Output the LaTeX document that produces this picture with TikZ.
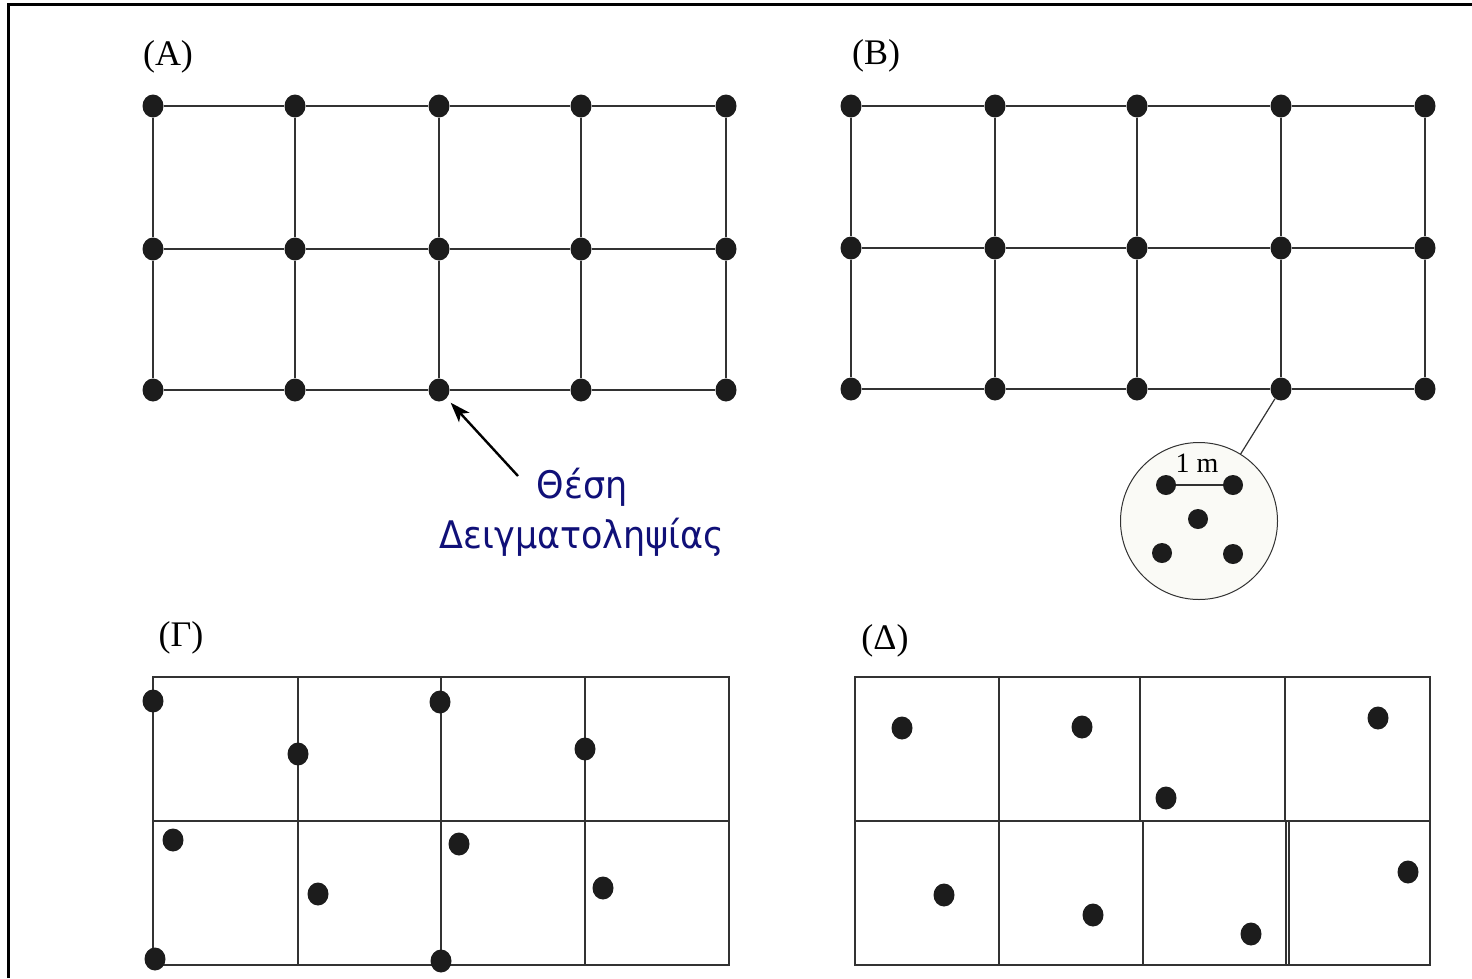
\documentclass[tikz,border=0pt]{standalone}
\usepackage{fontspec}
\usetikzlibrary{shapes.geometric,arrows.meta}
\newfontfamily\labfont{Liberation Serif}
\newfontfamily\grfont[FakeStretch=0.92]{DejaVu Sans}
\definecolor{navytext}{RGB}{16,16,120}
\definecolor{dotcol}{RGB}{28,28,28}
\definecolor{gridcol}{RGB}{50,50,50}
\definecolor{insetfill}{RGB}{250,250,246}
\begin{document}
\begin{tikzpicture}[x=1pt,y=-1pt,
  dot/.style={ellipse,fill=dotcol,inner sep=0pt,minimum width=21pt,minimum height=23pt},
  smalldot/.style={ellipse,fill=dotcol,inner sep=0pt,minimum width=20pt,minimum height=20pt},
  gridline/.style={draw=gridcol,line width=1.4pt},
  panellabel/.style={font=\labfont\fontsize{36}{40}\selectfont,inner sep=0pt},
  frameline/.style={draw=black,line width=3pt}]
\useasboundingbox (0,0) rectangle (1472,978);
% frame
\draw[frameline] (8,978) -- (8,4) -- (1472,4);

% ---------- Panel A ----------
\node[panellabel] (labA) at (168,57) {(A)};
\foreach \c/\x in {1/153,2/295,3/439,4/581,5/726}{
  \foreach \r/\y in {1/106,2/249,3/390}{
    \node[dot] (A-\r-\c) at (\x,\y) {};
  }
}
\foreach \r in {1,2,3}{
  \foreach \c/\n in {1/2,2/3,3/4,4/5}{
    \draw[gridline] (A-\r-\c) -- (A-\r-\n);
  }
}
\foreach \c in {1,2,3,4,5}{
  \draw[gridline] (A-1-\c) -- (A-2-\c);
  \draw[gridline] (A-2-\c) -- (A-3-\c);
}
\node[font=\grfont\fontsize{38}{50}\selectfont,text=navytext,align=center,inner sep=0pt] (txt) at (582,512) {Θέση\\Δειγματοληψίας};
\coordinate (arrstart) at (518,476);
\draw[-{Stealth[length=20pt,width=14pt,inset=5pt]},line width=2.4pt,shorten >=6pt] (arrstart) -- (A-3-3);

% ---------- Panel B ----------
\node[panellabel] (labB) at (876,56) {(B)};
\foreach \c/\x in {1/851,2/995,3/1137,4/1281,5/1425}{
  \foreach \r/\y in {1/106,2/248,3/389}{
    \node[dot] (B-\r-\c) at (\x,\y) {};
  }
}
\foreach \r in {1,2,3}{
  \foreach \c/\n in {1/2,2/3,3/4,4/5}{
    \draw[gridline] (B-\r-\c) -- (B-\r-\n);
  }
}
\foreach \c in {1,2,3,4,5}{
  \draw[gridline] (B-1-\c) -- (B-2-\c);
  \draw[gridline] (B-2-\c) -- (B-3-\c);
}
% inset
\node[circle,draw=gridcol,line width=1pt,fill=insetfill,minimum size=157pt,inner sep=0pt] (inset) at (1199,521) {};
\draw[draw=gridcol,line width=1.2pt] (B-3-4) -- (inset);
\node[smalldot] (i1) at (1166,485) {};
\node[smalldot] (i2) at (1233,485) {};
\node[smalldot] (i3) at (1198,519) {};
\node[smalldot] (i4) at (1162,553) {};
\node[smalldot] (i5) at (1233,554) {};
\draw[gridline] (i1) -- (i2);
\node[font=\labfont\fontsize{28}{30}\selectfont,inner sep=0pt] (onem) at (1197,463) {1 m};

% ---------- Panel Gamma ----------
\node[panellabel] (labG) at (181,638) {(Γ)};
\draw[gridline] (153,677) rectangle (729,965);
\draw[gridline] (153,821) -- (729,821);
\foreach \x in {298,441,585}{ \draw[gridline] (\x,677) -- (\x,965); }
\foreach \i/\x/\y in {1/153/701,2/298/754,3/440/702,4/585/749,5/173/840,6/318/894,7/459/844,8/603/888,9/155/959,10/441/961}{
  \node[dot] (G\i) at (\x,\y) {};
}

% ---------- Panel Delta ----------
\node[panellabel] (labD) at (885,641) {(Δ)};
\draw[gridline] (855,677) rectangle (1430,965);
\draw[gridline] (855,821) -- (1430,821);
\foreach \x in {999,1140,1285}{ \draw[gridline] (\x,677) -- (\x,821); }
\foreach \x in {999,1143,1286,1289}{ \draw[gridline] (\x,821) -- (\x,965); }
\foreach \i/\x/\y in {1/902/728,2/1082/727,3/1166/798,4/1378/718,5/944/895,6/1093/915,7/1251/934,8/1408/872}{
  \node[dot] (D\i) at (\x,\y) {};
}
\end{tikzpicture}
\end{document}
